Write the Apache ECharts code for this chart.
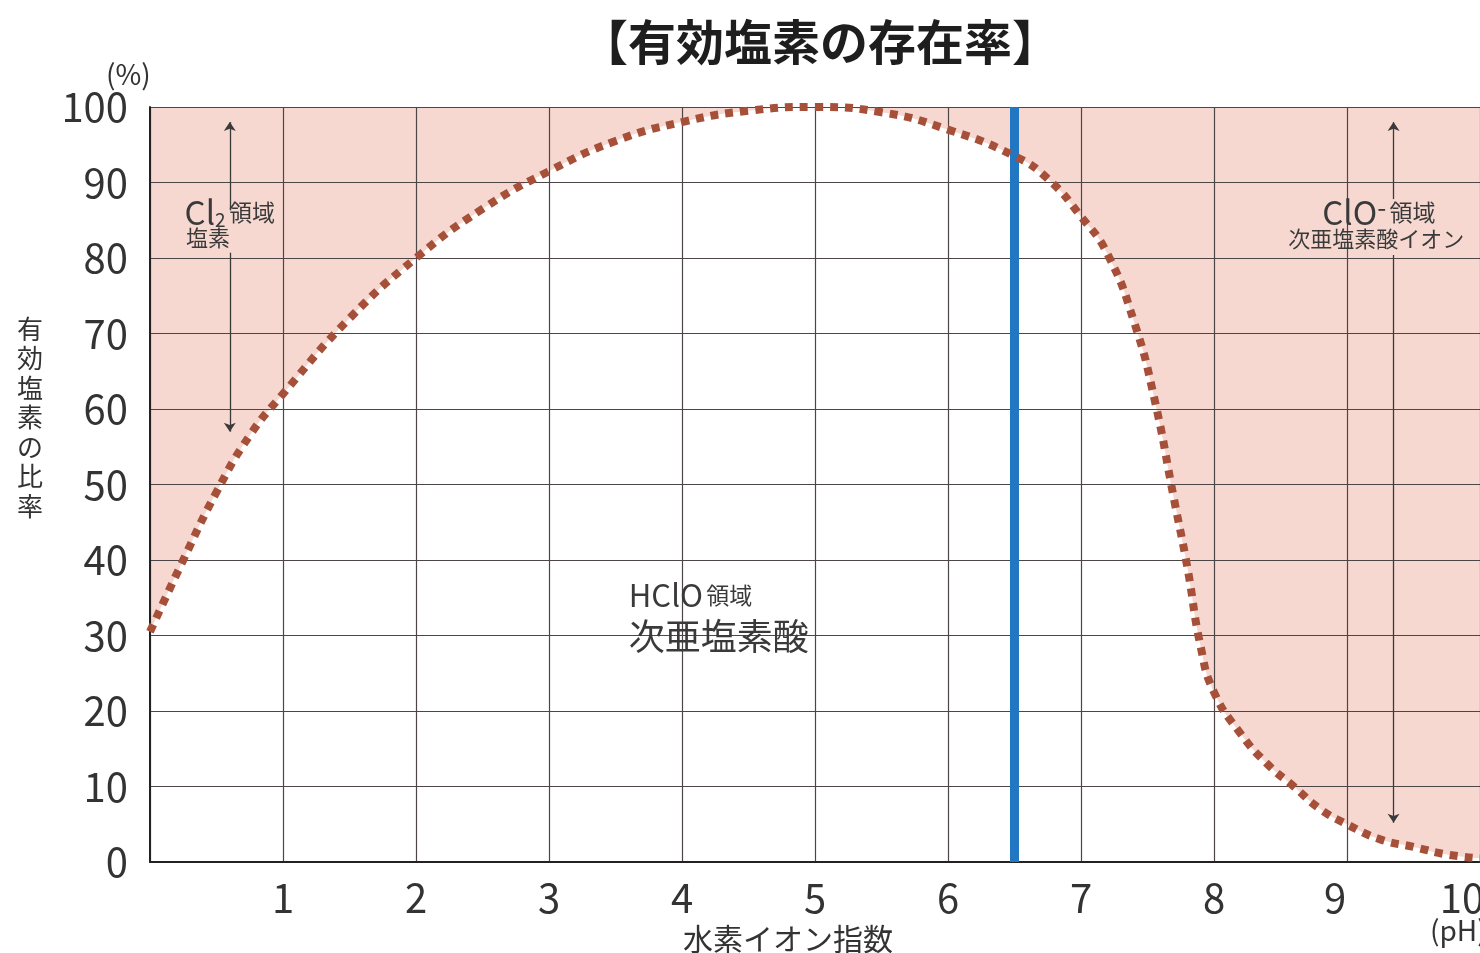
<!DOCTYPE html>
<html>
<head>
<meta charset="utf-8">
<script src="https://cdn.jsdelivr.net/npm/echarts@6/dist/echarts.min.js"></script>
<style>
html,body{margin:0;padding:0;background:#fff;overflow:hidden;}
#chart{width:1480px;height:953px;}
</style>
</head>
<body>
<div id="chart"></div>
<script>
// ---- data ----
const pH = [0, 0.25, 0.5, 0.75, 1, 1.5, 2, 2.5, 3, 3.5, 4, 4.5, 5, 5.5, 6, 6.5, 6.75, 7, 7.2, 7.4, 7.55, 7.7, 7.8, 7.9, 8, 8.2, 8.4, 8.6, 8.8, 9, 9.25, 9.5, 9.75, 10];
const ratio = [30.5, 40, 49, 56.5, 62, 72, 80, 86.5, 91.5, 95.5, 98, 99.5, 100, 99.3, 97, 93.5, 90.5, 85.5, 80.5, 71.5, 61.5, 48, 39, 28.5, 22.5, 17, 13, 10, 7, 5, 3, 2, 1, 0.5];
const xTicks = [1, 2, 3, 4, 5, 6, 7, 8, 9, 10];
const yTicks = [0, 10, 20, 30, 40, 50, 60, 70, 80, 90, 100];
const markerPH = 6.5;
const title = '【有効塩素の存在率】';
const yName = '有効塩素の比率';
const xName = '水素イオン指数';

const points = pH.map((x, i) => [x, ratio[i]]);
const FONT = '"Noto Sans CJK JP", "Noto Sans", sans-serif';
const GRID = '#4d4646';
const ARROW = '#3a3a3a';
const TXT = '#3a3a3a';

const chart = echarts.init(document.getElementById('chart'));
const arrowLine = (x, y1, y2) => [{coord: [x, y1]}, {coord: [x, y2]}];

chart.setOption({
  backgroundColor: '#fff',
  animation: false,
  title: {
    text: title, left: 815, top: 13, textAlign: 'center',
    textStyle: {fontFamily: FONT, fontSize: 48, fontWeight: 'bold', color: '#1e1e1e'}
  },
  grid: {left: 150, right: 0, top: 107, bottom: 91, show: true, backgroundColor: '#f6d8d1', borderWidth: 0,
         containLabel: false, outerBoundsMode: 'none'},
  xAxis: {
    type: 'value', min: 0, max: 10, interval: 1, z: 3,
    axisLine: {show: true, lineStyle: {color: '#222', width: 2}},
    axisTick: {show: false},
    axisLabel: {
      margin: 16, fontSize: 40, color: '#333', fontFamily: FONT, hideOverlap: false,
      formatter: v => !xTicks.includes(v) ? '' : (v === 10 ? '{e|10}' : v === 9 ? '{n|9}' : String(v)),
      rich: {
        e: {fontSize: 40, fontFamily: FONT, color: '#333', padding: [0, 36, 0, 0]},
        n: {fontSize: 40, fontFamily: FONT, color: '#333', padding: [0, 24, 0, 0]}
      }
    },
    splitLine: {show: true, lineStyle: {color: GRID, width: 1.2}}
  },
  yAxis: {
    type: 'value', min: 0, max: 100, interval: 10, z: 3,
    axisLine: {show: true, lineStyle: {color: '#222', width: 2}},
    axisTick: {show: false},
    axisLabel: {
      margin: 22, fontSize: 40, color: '#333', fontFamily: FONT,
      formatter: v => yTicks.includes(v) ? String(v) : ''
    },
    splitLine: {show: true, lineStyle: {color: GRID, width: 1.2}}
  },
  series: [
    {
      type: 'line', data: points, smooth: true, showSymbol: false, z: 1,
      lineStyle: {width: 0, opacity: 0},
      areaStyle: {color: '#ffffff', opacity: 1, origin: 'start'},
      silent: true,
      markLine: {
        silent: true, z: 4,
        symbol: ['none', 'arrow'], symbolSize: [9, 9],
        label: {show: false},
        lineStyle: {color: ARROW, width: 1.3, type: 'solid'},
        data: [
          arrowLine(0.6, 86.3, 98),
          arrowLine(0.6, 80.7, 57),
          arrowLine(9.35, 87.8, 98),
          arrowLine(9.35, 80.4, 5.2)
        ]
      }
    },
    {
      type: 'line', data: points, smooth: true, showSymbol: false, z: 6,
      lineStyle: {color: '#a6503a', width: 8, type: [8, 7], cap: 'butt'},
      markLine: {
        silent: true, symbol: ['none', 'none'], label: {show: false},
        lineStyle: {color: '#2177c2', width: 9, type: 'solid'},
        data: [{xAxis: markerPH}],
        z: 5
      }
    }
  ]
});

// annotation texts placed via data coordinates
function place(x, y) { return chart.convertToPixel({gridIndex: 0}, [x, y]); }
const p1 = place(0.26, 86), p2 = place(0.27, 82.7);
const p3 = place(9.24, 86), p4 = place(9.22, 82.5);
const p5 = place(3.6, 35.3), p6 = place(3.6, 29.9);
chart.setOption({
  graphic: [
    {type: 'text', left: 106, top: 60, style: {text: '(%)', font: '28px ' + FONT, fill: '#333'}},
    {type: 'text', x: 30, y: 314, style: {text: yName.split('').join('\n'), font: '26px ' + FONT, lineHeight: 29.5, fill: '#333', align: 'center'}},
    {type: 'text', left: 683, top: 924, style: {text: xName, font: '30px ' + FONT, fill: '#333'}},
    {type: 'text', left: 1430, top: 916, style: {text: '(pH)', font: '28px ' + FONT, fill: '#333'}},
    {type: 'text', z: 10, x: p1[0], y: p1[1], style: {
      text: '{a|Cl}{s|2} {b|領域}', verticalAlign: 'middle', fill: TXT,
      rich: {a: {fontSize: 33, fontFamily: FONT, fill: TXT}, s: {fontSize: 19, fontFamily: FONT, fill: TXT, padding: [14, 0, 0, 0]}, b: {fontSize: 23, fontFamily: FONT, fill: TXT}}
    }},
    {type: 'text', z: 10, x: p2[0], y: p2[1], style: {text: '塩素', font: '22px ' + FONT, fill: TXT, verticalAlign: 'middle'}},
    {type: 'text', z: 10, x: p3[0], y: p3[1], style: {
      text: '{a|ClO}{s|-} {b|領域}', verticalAlign: 'middle', align: 'center', fill: TXT,
      rich: {a: {fontSize: 33, fontFamily: FONT, fill: TXT}, s: {fontSize: 26, fontFamily: FONT, fill: TXT, padding: [0, 0, 12, 0]}, b: {fontSize: 23, fontFamily: FONT, fill: TXT}}
    }},
    {type: 'text', z: 10, x: p4[0], y: p4[1], style: {text: '次亜塩素酸イオン', font: '22px ' + FONT, fill: TXT, align: 'center', verticalAlign: 'middle'}},
    {type: 'text', z: 10, x: p5[0], y: p5[1], style: {
      text: '{a|HClO} {b|領域}', verticalAlign: 'middle', fill: TXT,
      rich: {a: {fontSize: 31, fontFamily: FONT, fill: TXT}, b: {fontSize: 23, fontFamily: FONT, fill: TXT}}
    }},
    {type: 'text', z: 10, x: p6[0], y: p6[1], style: {text: '次亜塩素酸', font: '36px ' + FONT, fill: TXT, verticalAlign: 'middle'}}
  ]
});
</script>
</body>
</html>
